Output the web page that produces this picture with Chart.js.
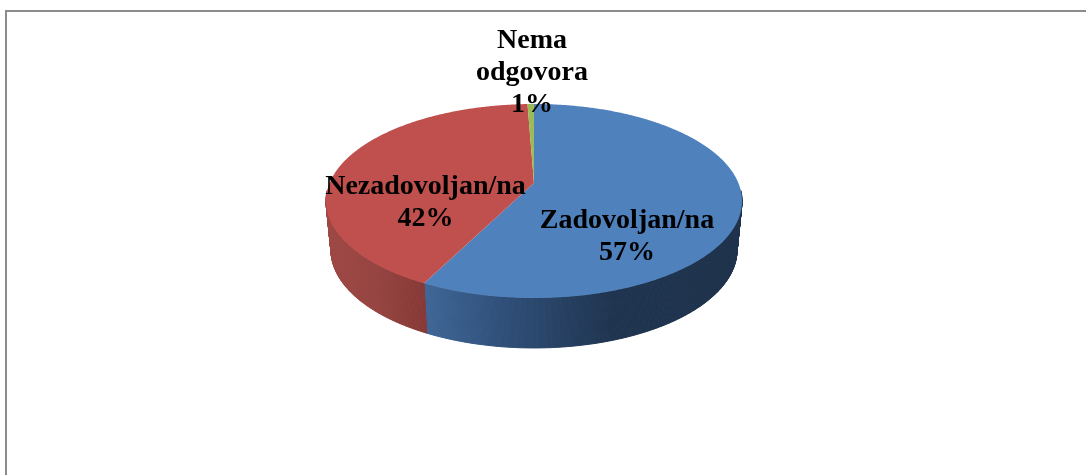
<!DOCTYPE html>
<html>
<head>
<meta charset="utf-8">
<style>
html,body{margin:0;padding:0;background:#fff;overflow:hidden}
#wrap{position:absolute;left:0;top:0;width:1086px;height:475px}
</style>
<script src="https://cdn.jsdelivr.net/npm/chart.js@4/dist/chart.umd.min.js"></script>
</head>
<body>
<div id="wrap"><canvas id="c" width="1086" height="475"></canvas></div>
<script>
const categories = ['Zadovoljan/na', 'Nezadovoljan/na', 'Nema odgovora'];
const shares = [57.4, 42.0, 0.6];
const topColors = ['#4f81bd', '#c0504d', '#9bbb59'];
const labelLines = [['Zadovoljan/na'], ['Nezadovoljan/na'], ['Nema', 'odgovora']];

// Projection of the flat pie into the tilted view
const VIEW = {
  stretchX: 208 / 97,   // ellipse width relative to height
  apexShift: 0.186,     // how far the hub sits towards the back rim (perspective)
  wallDrop: 49,         // bottom rim centre below top rim centre
  wallInset: 0.976,     // bottom rim is slightly narrower
  wallRy: 1.01
};
const WALL_STOPS = [
  [[0, '#3f6696'], [0.25, '#2f4f79'], [0.6, '#1f344f'], [1, '#1e324c']],
  [[0, '#9e4845'], [0.45, '#964441'], [1, '#863936']],
  [[0, '#76903f'], [1, '#76903f']]
];
const WALL_SPANS = [[426, 737], [331, 426], [520, 540]];
const LABEL_SPOTS = [
  {x: 627, y: 220}, {x: 425.5, y: 186}, {x: 532, y: 40}
];
const LINE_GAP = 32;

function project(arc, angle, bottom) {
  const k = VIEW.apexShift, c = Math.cos(angle), s = Math.sin(angle);
  const d = 1 - k * s;
  const nx = c * Math.sqrt(1 - k * k) / d;
  const ny = (s - k) / d;
  const r = arc.outerRadius;
  if (bottom) {
    return {
      x: arc.x + nx * r * VIEW.stretchX * VIEW.wallInset,
      y: arc.y + VIEW.wallDrop + ny * r * VIEW.wallRy
    };
  }
  return {x: arc.x + nx * r * VIEW.stretchX, y: arc.y + ny * r};
}
function hub(arc) {
  return {x: arc.x, y: arc.y - VIEW.apexShift * arc.outerRadius};
}

const tiltedPie = {
  id: 'tiltedPie',
  beforeDatasetDraw(chart, args) {
    const ctx = chart.ctx;
    const arcs = chart.getDatasetMeta(args.index).data;
    const step = Math.PI / 360;

    // side walls
    arcs.forEach((arc, i) => {
      const g = ctx.createLinearGradient(WALL_SPANS[i][0], 0, WALL_SPANS[i][1], 0);
      WALL_STOPS[i].forEach(st => g.addColorStop(st[0], st[1]));
      ctx.fillStyle = g;
      ctx.strokeStyle = g;
      ctx.lineWidth = 1;
      for (let a = arc.startAngle; a < arc.endAngle; a += step) {
        const b = Math.min(a + step, arc.endAngle);
        if (Math.sin(a) < 0.08 && Math.sin(b) < 0.08) continue;
        const p = [project(arc, a), project(arc, b), project(arc, b, true), project(arc, a, true)];
        ctx.beginPath();
        p.forEach((q, n) => n ? ctx.lineTo(q.x, q.y) : ctx.moveTo(q.x, q.y));
        ctx.closePath();
        ctx.fill();
        ctx.stroke();
      }
    });

    // top face
    arcs.forEach((arc, i) => {
      const h = hub(arc);
      ctx.beginPath();
      ctx.moveTo(h.x, h.y);
      for (let a = arc.startAngle; a < arc.endAngle; a += step) {
        const q = project(arc, a);
        ctx.lineTo(q.x, q.y);
      }
      const e = project(arc, arc.endAngle);
      ctx.lineTo(e.x, e.y);
      ctx.closePath();
      ctx.fillStyle = arc.options.backgroundColor;
      ctx.fill();
    });
    return false;
  },
  afterDraw(chart) {
    const ctx = chart.ctx;
    const values = chart.data.datasets[0].data;
    ctx.save();
    // frame
    ctx.strokeStyle = '#8c8c8c';
    ctx.lineWidth = 2;
    ctx.beginPath();
    ctx.moveTo(6, 475);
    ctx.lineTo(6, 11);
    ctx.lineTo(1086, 11);
    ctx.stroke();
    // labels
    ctx.fillStyle = '#000';
    ctx.font = 'bold 28px "Liberation Serif"';
    ctx.textAlign = 'center';
    ctx.textBaseline = 'middle';
    labelLines.forEach((lines, i) => {
      const all = lines.concat(Math.round(values[i]) + '%');
      all.forEach((t, n) => ctx.fillText(t, LABEL_SPOTS[i].x, LABEL_SPOTS[i].y + 1 + n * LINE_GAP));
    });
    ctx.restore();
  }
};

new Chart(document.getElementById('c'), {
  type: 'pie',
  data: {
    labels: categories,
    datasets: [{data: shares, backgroundColor: topColors, borderWidth: 0}]
  },
  options: {
    responsive: false,
    animation: false,
    layout: {padding: {left: 437, right: 455, top: 104, bottom: 177}},
    plugins: {legend: {display: false}, tooltip: {enabled: false}}
  },
  plugins: [tiltedPie]
});
</script>
</body>
</html>
